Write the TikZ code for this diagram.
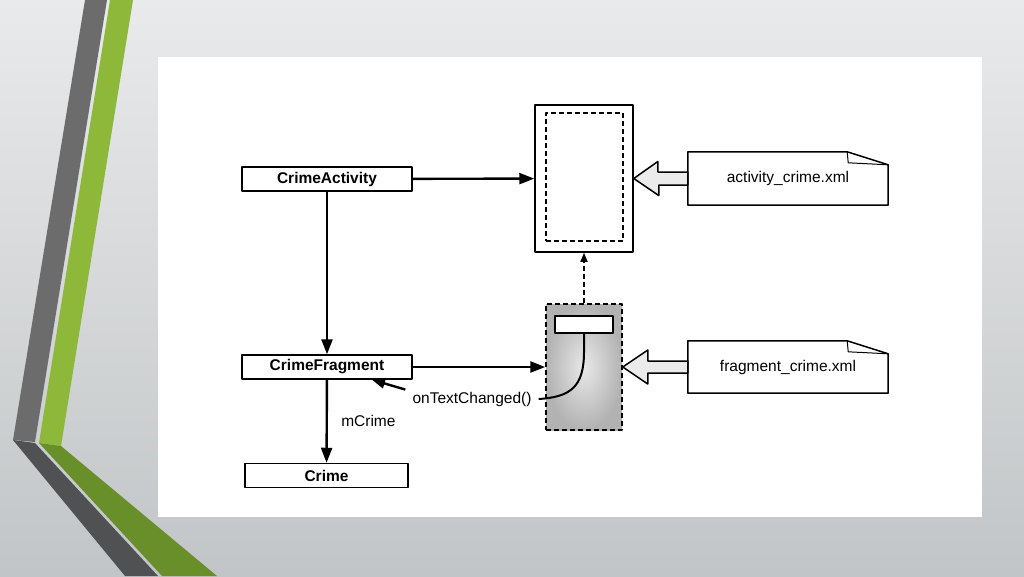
\documentclass[tikz,border=0pt]{standalone}
\usepackage{fontspec}
\setmainfont{Liberation Sans}
\usetikzlibrary{arrows.meta,positioning}
\definecolor{slidetop}{HTML}{E9EAEB}
\definecolor{slidebot}{HTML}{C2C5C7}
\definecolor{stripegray}{HTML}{6C6C6D}
\definecolor{stripedark}{HTML}{505153}
\definecolor{stripegreen}{HTML}{8DB83A}
\definecolor{stripeolive}{HTML}{698F2A}
\begin{document}
\begin{tikzpicture}[x=1pt,y=-1pt,line join=round,
    font=\fontsize{15.5}{18}\selectfont,
    >={Triangle[length=15pt,width=11pt]},
    cls/.style={draw,line width=1.5pt,minimum width=170pt,minimum height=24pt,inner sep=0pt,
      font=\fontsize{15.5}{18}\selectfont\bfseries},
    link/.style={->,line width=2.4pt},
    frame/.style={draw,line width=1.5pt,inner sep=0pt},
    pane/.style={dash pattern=on 5pt off 3pt},
    doc/.style={line width=1.5pt},
    hollow/.style={draw,line width=1.5pt,fill=black!8}]
  % slide background and stripes
  \useasboundingbox (0,0) rectangle (1024,576);
  \shade[top color=slidetop,bottom color=slidebot] (0,0) rectangle (1024,576);
  \fill[stripegray] (85,0) -- (107,0) -- (35,442) -- (13,440) -- cycle;
  \fill[stripedark] (13,440) -- (35,443) -- (158,576) -- (125,576) -- cycle;
  \fill[stripegreen] (110,0) -- (133,0) -- (61,446) -- (39,443) -- cycle;
  \fill[stripeolive] (39,443) -- (61,446) -- (217,576) -- (162,576) -- cycle;
  \fill[white] (158,57) rectangle (982,517);

  % classes
  \node[cls] (act) at (327,179) {CrimeActivity};
  \node[cls] (frag) at (327,367) {CrimeFragment};
  \node[cls,minimum width=163pt] (crime) at (326.5,475.5) {Crime};

  % views
  \node[frame,minimum width=98pt,minimum height=147pt] (actview) at (584,178.5) {};
  \node[frame,pane,minimum width=77pt,minimum height=128pt] (actpane) at (584.5,177) {};
  \node[frame,pane,inner color=black!9,outer color=black!30,
    minimum width=76pt,minimum height=126pt] (fragview) at (584,367) {};
  \node[frame,fill=white,minimum width=58pt,minimum height=17pt] (widget) at (584,324.5) {};

  % layout files
  \node[minimum width=200pt,minimum height=53pt] (actxml) at (788,178.5) {activity\_crime.xml};
  \node[minimum width=200pt,minimum height=52pt] (fragxml) at (788,367) {fragment\_crime.xml};
  \foreach \f in {actxml,fragxml}{
    \draw[doc] (\f.south west) -- (\f.north west) -- ([xshift=-41pt]\f.north east)
      -- ([yshift=-13pt]\f.north east) -- (\f.south east) -- cycle;
    \draw[line width=1pt] ([xshift=-41pt]\f.north east) -- ([xshift=-40pt,yshift=-11pt]\f.north east)
      -- ([yshift=-13pt]\f.north east);
  }
  \draw[hollow] (actxml.west) ++(0,-6.5) -- ++(-30,0) -- ++(0,-10.5) -- (actview.east)
    -- ++(25,17) -- ++(0,-10.5) -- ([yshift=-6.5pt]actxml.west) -- cycle;
  \draw[hollow] (fragxml.west) ++(0,-6) -- ++(-40,0) -- ++(0,-11) -- (fragview.east)
    -- ++(25,17) -- ++(0,-11) -- ([yshift=-6pt]fragxml.west) -- cycle;

  % connectors
  \draw[link] (act) -- (actview);
  \draw[link] (act) -- (frag);
  \draw[link] (frag) -- (fragview);
  \draw[link] (frag) -- node[right=10pt] {mCrime} (crime);
  \draw[->,line width=1.5pt,pane,>={Triangle[length=9pt,width=7pt]}] (fragview) -- (actview);

  \node[inner sep=2pt] (cb) at (472,399) {onTextChanged()};
  \draw[link,>={Triangle[length=13pt,width=10pt]}] ([xshift=-5pt]cb.north west) -- ([xshift=45pt]frag.south);
  \draw[line width=2pt] ([xshift=5pt]cb.east) .. controls +(32,-2) and +(0,35) .. ([yshift=-18pt]widget.south)
    -- (widget.south);
\end{tikzpicture}
\end{document}
